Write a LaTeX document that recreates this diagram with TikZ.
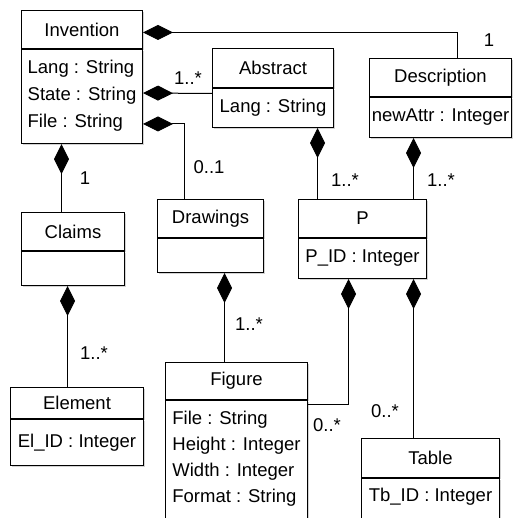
\documentclass[tikz,border=0pt]{standalone}
\usepackage{fontspec}
\setmainfont{Liberation Sans}
\usetikzlibrary{arrows.meta,shadows,calc}
\tikzset{
  clshead/.style={draw,line width=1pt,fill=white,anchor=north west,inner sep=0pt,
    font=\fontsize{18.5}{22}\selectfont,
    drop shadow={shadow xshift=1.5pt,shadow yshift=-1.5pt,opacity=.35}},
  clsbody/.style={clshead,align=left,font=\fontsize{18.5}{27}\selectfont},
  comp/.style={line width=1pt,{Diamond[length=30pt,width=15pt]}-},
  mult/.style={font=\fontsize{18.5}{22}\selectfont,inner sep=0pt}
}
\begin{document}
\begin{tikzpicture}[x=1pt,y=-1pt]
\useasboundingbox (0,0) rectangle (512,518);
%classes
\node[clshead,minimum width=121,minimum height=38](invH)at(21,10){Invention};
\node[clsbody,minimum width=121,inner ysep=10.4pt,text depth=6pt](invB)at(invH.south west){Lang : String\\State : String\\File : String};
\node[clshead,minimum width=121,minimum height=39](absH)at(212,48){Abstract};
\node[clsbody,minimum width=121,minimum height=39](absB)at(absH.south west){Lang : String};
\node[clshead,minimum width=142,minimum height=38](descH)at(369,58){Description};
\node[clsbody,minimum width=142,minimum height=40](descB)at(descH.south west){newAttr : Integer};
\node[clshead,minimum width=103,minimum height=38](claimsH)at(21,212){Claims};
\node[clsbody,minimum width=103,minimum height=34](claimsB)at(claimsH.south west){};
\node[clshead,minimum width=106,minimum height=38](drawH)at(157,199){Drawings};
\node[clsbody,minimum width=106,minimum height=34](drawB)at(drawH.south west){};
\node[clshead,minimum width=128,minimum height=38](pH)at(298,199){P};
\node[clsbody,minimum width=128,minimum height=40](pB)at(pH.south west){P\_ID : Integer};
\node[clshead,minimum width=133,minimum height=31](elemH)at(10,387){Element};
\node[clsbody,minimum width=133,minimum height=46](elemB)at(elemH.south west){El\_ID : Integer};
\node[clshead,minimum width=142,minimum height=37](figH)at(165,362){Figure};
\node[clsbody,minimum width=142,inner ysep=11pt,text depth=30pt,font=\fontsize{18.5}{26}\selectfont](figB)at(figH.south west){File : String\\Height : Integer\\Width : Integer\\Format : String};
\node[clshead,minimum width=138,minimum height=39](tabH)at(361,438){Table};
\node[clsbody,minimum width=138,inner ysep=9.5pt,text depth=30pt](tabB)at(tabH.south west){Tb\_ID : Integer};
%compositions
\draw[comp]($(invH.east)+(0,3)$)-|($(descH.north)+(17,0)$);
\draw[comp]($(invB.north east)+(0,44)$)--($(absB.west)+(0,-14.5)$);
\draw[comp]($(invB.north east)+(0,75)$)-|($(drawH.north)+(-26,0)$);
\draw[comp]($(invB.south)+(-20.5,0)$)--($(claimsH.north)+(-11.5,0)$);
\draw[comp]($(absB.south)+(44.5,0)$)--($(pH.north)+(-45,0)$);
\draw[comp]($(descB.south)+(-27,0)$)--($(pH.north)+(51,0)$);
\draw[comp]($(claimsB.south)+(-5.5,0)$)--($(elemH.north)+(-9.5,0)$);
\draw[comp]($(drawB.south)+(14,0)$)--($(figH.north)+(-12,0)$);
\draw[comp]($(pB.south)+(-14,0)$)|-($(figB.north east)+(0,4)$);
\draw[comp]($(pB.south)+(51,0)$)--($(tabH.north)+(-17,0)$);
%multiplicities
\node[mult](mDesc)at(489,40){1};
\node[mult](mAbs)at(188,78){1..*};
\node[mult](mDraw)at(209,167){0..1};
\node[mult](mClaims)at(85,178){1};
\node[mult](mPAbs)at(345,180){1..*};
\node[mult](mPDesc)at(441,180){1..*};
\node[mult](mElem)at(94,353){1..*};
\node[mult](mFig)at(249,324){1..*};
\node[mult](mPFig)at(327,425){0..*};
\node[mult](mTab)at(385,411){0..*};
\end{tikzpicture}
\end{document}
